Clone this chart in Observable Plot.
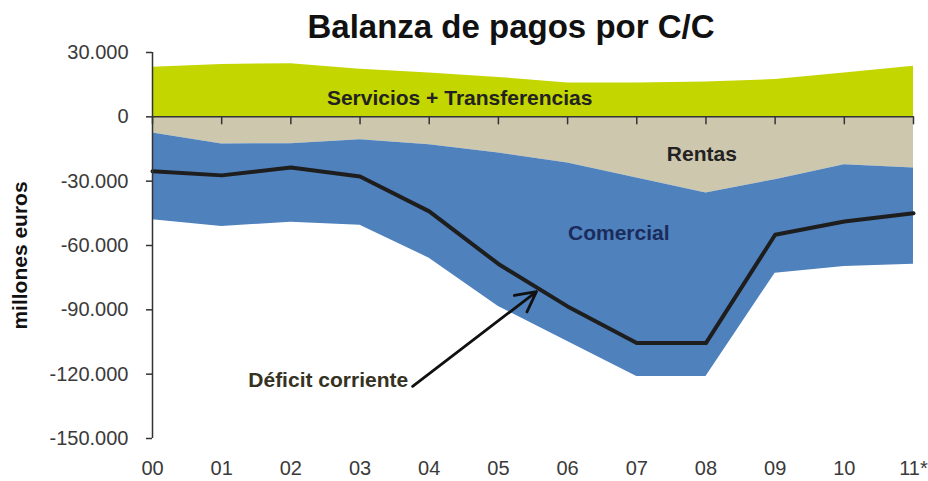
<!DOCTYPE html>
<html>
<head>
<meta charset="utf-8">
<script src="https://cdn.jsdelivr.net/npm/d3@7"></script>
<script src="https://cdn.jsdelivr.net/npm/@observablehq/plot@0.6"></script>
<style>
  html, body { margin: 0; padding: 0; background: #fff; }
  #chart svg { display: block; }
</style>
</head>
<body>
<div id="chart"></div>
<script>
// ---- data (millones de euros) ----
const years = ["00", "01", "02", "03", "04", "05", "06", "07", "08", "09", "10", "11*"];
const servicios = [23100, 24400, 24800, 22200, 20400, 18400, 15800, 15800, 16200, 17400, 20400, 23600];
const rentas = [-7500, -12700, -12500, -10700, -13000, -16900, -21500, -28500, -35500, -29300, -22300, -23900];
const comercial = [-40500, -38400, -36700, -39900, -52900, -71500, -83300, -92600, -85600, -43600, -47500, -44800];
const deficit = [-25400, -27300, -23600, -27800, -44100, -68600, -88400, -105500, -105500, -55000, -48800, -45000];
const seriesNames = ["Servicios + Transferencias", "Rentas", "Comercial"];
const yTicks = [-150000, -120000, -90000, -60000, -30000, 0, 30000];
const title = "Balanza de pagos por C/C";
const yLabel = "millones euros";
// annotation anchors in data space (year index, value)
const labels = [
  {text: "Servicios + Transferencias", i: 4.44, v: 8700},
  {text: "Rentas", i: 7.94, v: -17400},
  {text: "Comercial", i: 6.74, v: -54200},
  {text: "Déficit corriente", i: 2.54, v: -123000}
];
const arrowData = [{i1: 3.76, v1: -125700, i2: 5.55, v2: -81500}];

// ---- styles ----
const FONT = "Liberation Sans, Arial, Helvetica, sans-serif";
const fillColors = ["#c4d600", "#cdc7ae", "#4f81bd"];
const labelColors = {"Servicios + Transferencias": "#222222", "Rentas": "#222222", "Comercial": "#1a2b5c", "Déficit corriente": "#35321f"};

const table = [servicios, rentas, comercial].flatMap((vals, s) =>
  vals.map((v, i) => ({i, serie: seriesNames[s], v}))
);
const idx = years.map((_, i) => i);

const esFormat = d3.formatLocale({decimal: ",", thousands: ".", grouping: [3], currency: ["", " €"], minus: "-"}).format(",");

const tickShape = {
  draw(context, l) { context.moveTo(0, 0); context.lineTo(0, -l); }
};

const chart = Plot.plot({
  width: 928,
  height: 481,
  marginLeft: 152,
  marginRight: 15,
  marginTop: 52,
  marginBottom: 43,
  style: {fontFamily: FONT, background: "#fff", color: "#333", overflow: "visible"},
  x: {type: "linear", domain: [0, years.length - 1]},
  y: {domain: [-150000, 30000]},
  color: {domain: seriesNames, range: fillColors},
  marks: [
    Plot.areaY(table, {x: "i", y: "v", z: "serie", fill: "serie", curve: "linear"}),
    Plot.lineY(deficit, {x: (d, i) => i, y: d => d, stroke: "#1e1e1e", strokeWidth: 4, strokeLinejoin: "round"}),
    Plot.ruleY([0], {stroke: "#333", strokeWidth: 1.5}),
    Plot.ruleX([0], {stroke: "#333", strokeWidth: 1.5}),
    Plot.vector(idx, {x: d => d, y: 0, length: 7, rotate: 180, anchor: "start", shape: tickShape, stroke: "#333", strokeWidth: 1.5}),
    Plot.axisY(yTicks, {anchor: "left", tickSize: 6, tickPadding: 18, tickFormat: esFormat, fontSize: 20, stroke: "#333", strokeWidth: 1.5, fill: "#3a3a3a", label: null}),
    Plot.axisX(idx, {anchor: "bottom", tickSize: 0, tickPadding: 22, tickFormat: i => years[i], fontSize: 20, fill: "#3a3a3a", label: null}),
    Plot.text(labels, {x: "i", y: "v", text: "text", fill: d => labelColors[d.text], fontSize: 21, fontWeight: "bold", textAnchor: "middle", lineAnchor: "middle"}),
    Plot.arrow(arrowData, {x1: "i1", y1: "v1", x2: "i2", y2: "v2", stroke: "#111", strokeWidth: 2.8, headLength: 12, headAngle: 55}),
    Plot.text([yLabel], {frameAnchor: "left", dx: -132, dy: 10, rotate: -90, fontSize: 21, fontWeight: "bold", fill: "#111", textAnchor: "middle", lineAnchor: "middle"}),
    Plot.text([title], {frameAnchor: "top", dx: -22, dy: -25, fontSize: 33, fontWeight: "bold", fill: "#111", textAnchor: "middle", lineAnchor: "middle", letterSpacing: "0.6px"})
  ]
});
document.getElementById("chart").appendChild(chart);
</script>
</body>
</html>
